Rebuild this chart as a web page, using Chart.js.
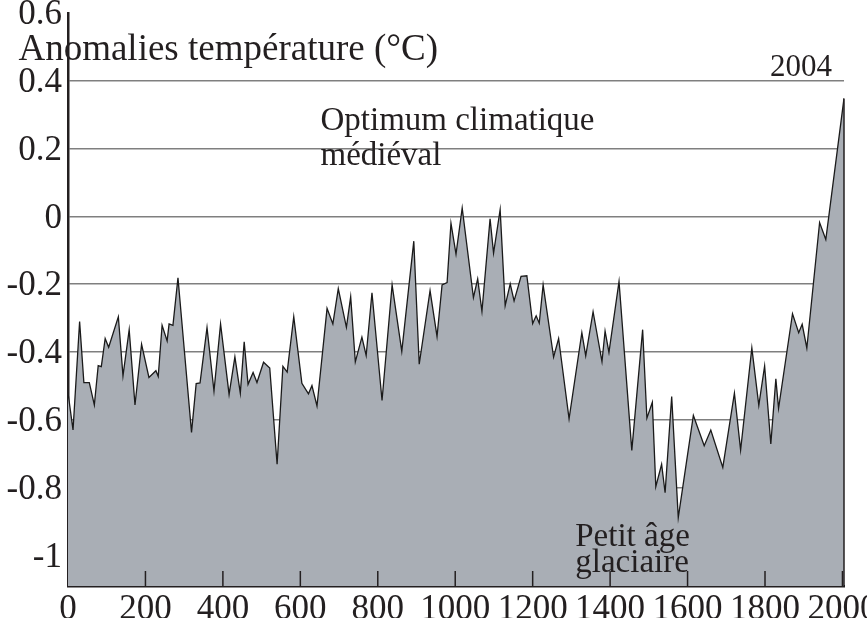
<!DOCTYPE html>
<html lang="fr">
<head>
<meta charset="utf-8">
<title>Anomalies de température</title>
<script src="https://cdn.jsdelivr.net/npm/chart.js@4.4.1/dist/chart.umd.min.js"></script>
<style>
  html, body { margin: 0; padding: 0; background: #fff; }
  #wrap { width: 867px; height: 618px; }
</style>
</head>
<body>
<div id="wrap"><canvas id="tempChart" width="867" height="618"></canvas></div>
<script>
// ============ données ============
const years = [
  0, 13, 30, 41, 55, 68, 78, 86, 96, 105, 130, 142, 158, 173, 190, 209, 227, 233,
  243, 256, 261, 271, 284, 319, 331, 341, 359, 377, 394, 416, 431, 445, 455, 465,
  478, 488, 505, 521, 540, 555, 566, 583, 604, 621, 630, 643, 669, 684, 698, 719,
  730, 742, 759, 770, 785, 811, 837, 862, 893, 907, 935, 953, 966, 979, 989, 1002,
  1018, 1047, 1058, 1069, 1090, 1099, 1116, 1129, 1142, 1152, 1170, 1185, 1200,
  1209, 1217, 1227, 1254, 1267, 1294, 1327, 1337, 1356, 1379, 1387, 1397, 1423,
  1456, 1484, 1495, 1509, 1518, 1533, 1542, 1559, 1576, 1615, 1643, 1660, 1691,
  1721, 1737, 1766, 1784, 1799, 1815, 1828, 1835, 1871, 1887, 1896, 1908, 1941,
  1957, 2004
];
const anomalies = [
  -0.52, -0.63, -0.31, -0.49, -0.49, -0.556, -0.44, -0.443, -0.36, -0.386, -0.296,
  -0.47, -0.334, -0.556, -0.377, -0.475, -0.455, -0.472,
  -0.321, -0.367, -0.317, -0.321, -0.181, -0.637, -0.493, -0.491, -0.328, -0.515,
  -0.317, -0.525, -0.414, -0.521, -0.37, -0.495,
  -0.46, -0.49, -0.43, -0.447, -0.731, -0.442, -0.459, -0.296, -0.492, -0.523,
  -0.499, -0.559, -0.271, -0.317, -0.213, -0.327,
  -0.237, -0.429, -0.356, -0.41, -0.225, -0.543, -0.202, -0.398, -0.073, -0.436,
  -0.219, -0.354, -0.202, -0.195, -0.02, -0.111,
  0.025, -0.239, -0.184, -0.28, -0.007, -0.108, 0.02, -0.263, -0.199, -0.249,
  -0.177, -0.175, -0.316,
  -0.293, -0.315, -0.202, -0.415, -0.36, -0.597, -0.343, -0.411, -0.281, -0.428,
  -0.338, -0.401, -0.192,
  -0.69, -0.334, -0.595, -0.548, -0.797, -0.731, -0.815, -0.531, -0.888, -0.587,
  -0.676, -0.63, -0.74,
  -0.521, -0.689, -0.388, -0.557, -0.441, -0.671, -0.479, -0.566, -0.287, -0.343,
  -0.318, -0.388, -0.018,
  -0.068, 0.348
];
const xTicks = [0, 200, 400, 600, 800, 1000, 1200, 1400, 1600, 1800, 2000];
const yTicks = [0.6, 0.4, 0.2, 0, -0.2, -0.4, -0.6, -0.8, -1];

// textes placés en coordonnées du graphique
const notes = [
  { text: "Anomalies température (°C)", x: -128, y: 0.46, size: 37 },
  { text: "Optimum climatique", x: 652, y: 0.255, size: 33 },
  { text: "médiéval", x: 652, y: 0.152, size: 33 },
  { text: "2004", x: 1973, y: 0.414, size: 31, align: "right" },
  { text: "Petit âge", x: 1310, y: -0.973, size: 33 },
  { text: "glaciaire", x: 1310, y: -1.05, size: 33 },
];

const INK = "#231f20";
const SERIF = '"Liberation Serif", "Times New Roman", serif';

// petits traits intérieurs de l'axe x, bord droit et annotations
const extras = {
  id: "extras",
  afterDraw(chart) {
    const { ctx, chartArea, scales } = chart;
    ctx.save();
    ctx.strokeStyle = INK;
    ctx.lineWidth = 1.5;
    for (const v of xTicks) {
      if (v === 0) continue;
      const px = scales.x.getPixelForValue(v);
      ctx.beginPath();
      ctx.moveTo(px, chartArea.bottom);
      ctx.lineTo(px, chartArea.bottom - 15);
      ctx.stroke();
    }
    const pts = chart.getDatasetMeta(0).data;
    const last = pts[pts.length - 1];
    ctx.beginPath();
    ctx.moveTo(last.x, last.y);
    ctx.lineTo(last.x, chartArea.bottom);
    ctx.stroke();

    ctx.fillStyle = INK;
    ctx.textBaseline = "alphabetic";
    for (const n of notes) {
      ctx.font = n.size + "px " + SERIF;
      ctx.textAlign = n.align || "left";
      ctx.fillText(n.text, scales.x.getPixelForValue(n.x), scales.y.getPixelForValue(n.y));
    }
    ctx.restore();
  },
};

window.addEventListener("load", () => {
  const ctx = document.getElementById("tempChart").getContext("2d");
  new Chart(ctx, {
    type: "line",
    data: {
      datasets: [
        {
          label: "Anomalies",
          data: years.map((y, i) => ({ x: y, y: anomalies[i] })),
          borderColor: "#1a1a1a",
          borderWidth: 1.3,
          backgroundColor: "#a9aeb5",
          fill: "start",
          pointRadius: 0,
          tension: 0,
        },
      ],
    },
    options: {
      responsive: false,
      animation: false,
      layout: { padding: { top: 13, right: 23, left: 0, bottom: 0 } },
      plugins: {
        legend: { display: false },
        tooltip: { enabled: false },
      },
      scales: {
        x: {
          type: "linear",
          min: 0,
          max: 2004,
          afterBuildTicks: (s) => { s.ticks = xTicks.map((v) => ({ value: v })); },
          afterFit: (s) => { s.height = 32; s.paddingLeft = 0; s.paddingRight = 0; },
          grid: { display: false, drawTicks: false },
          border: { display: true, color: INK, width: 2.5 },
          ticks: {
            autoSkip: false,
            maxRotation: 0,
            padding: 3,
            color: INK,
            font: { family: SERIF, size: 35 },
            callback: (v) => String(v),
          },
        },
        y: {
          min: -1.09,
          max: 0.6,
          z: 1,
          afterBuildTicks: (s) => { s.ticks = yTicks.map((v) => ({ value: v })); },
          afterFit: (s) => { s.width = 68; s.paddingTop = 0; s.paddingBottom = 0; },
          grid: {
            drawTicks: false,
            lineWidth: 1.5,
            color: (c) => (c.tick && c.tick.value === 0.6 ? "rgba(0,0,0,0)" : "rgba(0,0,0,0.5)"),
          },
          border: { display: true, color: INK, width: 2.5 },
          ticks: {
            padding: 6,
            labelOffset: 2,
            color: INK,
            font: { family: SERIF, size: 35 },
            callback: (v) => String(v),
          },
        },
      },
    },
    plugins: [extras],
  });
});
</script>
</body>
</html>
